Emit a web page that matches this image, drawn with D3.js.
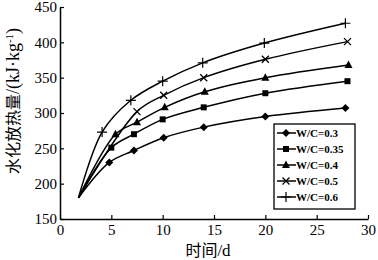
<!DOCTYPE html>
<html>
<head>
<meta charset="utf-8">
<script src="https://cdn.jsdelivr.net/npm/d3@7"></script>
<style>
  body { margin: 0; background: white; }
</style>
</head>
<body>
<div id="container"></div>
<script>
// data (days, heat in kJ/kg)
let startPoint = [1.8, 180];
let days03 = [4.8, 7.2, 10.1, 14, 20, 27.8];
let heat03 = [230, 247, 265, 280, 295, 307];
let days035 = [5, 7.2, 10, 14, 20, 28];
let heat035 = [251, 270, 291, 308, 328, 345];
let days04 = [5.4, 7.5, 10.2, 14.1, 20, 28.1];
let heat04 = [270, 287, 308, 330, 350, 368];
let days05 = [7.5, 10.1, 14, 20, 28];
let heat05 = [302, 325, 350, 376, 401];
let days06 = [4.1, 6.9, 10, 13.9, 19.9, 27.8];
let heat06 = [273, 318, 345, 371, 399, 427];
let seriesNames = ["W/C=0.3", "W/C=0.35", "W/C=0.4", "W/C=0.5", "W/C=0.6"];
let seriesSymbols = ["diamond", "square", "triangle", "cross", "plus"];
let xTicks = [0, 5, 10, 15, 20, 25, 30];
let yTicks = [150, 200, 250, 300, 350, 400, 450];

let w = 378;
let h = 260;

let viz = d3.select("#container")
  .append("svg")
    .attr("width", w)
    .attr("height", h)
    .style("background-color", "white")
;

let xScale = d3.scaleLinear().domain([0, 30]).range([60, 368]);
let yScale = d3.scaleLinear().domain([150, 450]).range([219, 7]);

let serif = "'Liberation Serif', 'Times New Roman', serif";

// axes
let xAxis = d3.axisBottom(xScale).tickValues(xTicks).tickSizeInner(-4).tickSizeOuter(0).tickPadding(5);
let xAxisGroup = viz.append("g").attr("transform", "translate(0," + yScale(150) + ")").call(xAxis);
let yAxis = d3.axisLeft(yScale).tickValues(yTicks).tickSizeInner(-4).tickSizeOuter(0).tickPadding(3);
let yAxisGroup = viz.append("g").attr("transform", "translate(" + xScale(0) + ",0)").call(yAxis);

[xAxisGroup, yAxisGroup].forEach(function(g){
  g.select(".domain").attr("stroke", "black").attr("stroke-width", 1.5);
  g.selectAll(".tick line").attr("stroke", "black").attr("stroke-width", 1.2);
  g.selectAll(".tick text")
    .attr("font-family", serif)
    .attr("font-size", 15)
    .attr("fill", "black");
});

// axis titles
viz.append("text")
  .attr("x", 208)
  .attr("y", 256)
  .attr("text-anchor", "middle")
  .attr("font-size", 16)
  .attr("fill", "black")
  .html("<tspan font-family=\"'Noto Sans CJK SC'\">时间</tspan><tspan font-family=\"" + serif + "\" font-size=\"17\">/d</tspan>");

viz.append("text")
  .attr("transform", "translate(19,101) rotate(-90)")
  .attr("text-anchor", "middle")
  .attr("font-size", 16)
  .attr("fill", "black")
  .html("<tspan font-family=\"'Noto Sans CJK SC'\">水化放热量</tspan>" +
        "<tspan font-family=\"" + serif + "\" font-size=\"18\">/(kJ·kg</tspan>" +
        "<tspan font-family=\"" + serif + "\" font-size=\"11\" dy=\"-6\">-1</tspan>" +
        "<tspan font-family=\"" + serif + "\" font-size=\"18\" dy=\"6\">)</tspan>");

// series
let allDays = [days03, days035, days04, days05, days06];
let allHeat = [heat03, heat035, heat04, heat05, heat06];

let line = d3.line()
  .x(function(d){ return xScale(d[0]); })
  .y(function(d){ return yScale(d[1]); })
  .curve(d3.curveCatmullRom.alpha(0.5));

function drawMarker(g, symbol, x, y){
  if (symbol == "diamond") {
    g.append("path").attr("d", "M" + x + "," + (y-4) + "L" + (x+4) + "," + y + "L" + x + "," + (y+4) + "L" + (x-4) + "," + y + "Z").attr("fill", "black");
  } else if (symbol == "square") {
    g.append("rect").attr("x", x-3).attr("y", y-3).attr("width", 6).attr("height", 6).attr("fill", "black");
  } else if (symbol == "triangle") {
    g.append("path").attr("d", "M" + x + "," + (y-4.5) + "L" + (x+4) + "," + (y+3) + "L" + (x-4) + "," + (y+3) + "Z").attr("fill", "black");
  } else if (symbol == "cross") {
    g.append("path").attr("d", "M" + (x-3.5) + "," + (y-3.5) + "L" + (x+3.5) + "," + (y+3.5) + "M" + (x-3.5) + "," + (y+3.5) + "L" + (x+3.5) + "," + (y-3.5)).attr("stroke", "black").attr("stroke-width", 1.3);
  } else {
    g.append("path").attr("d", "M" + (x-5) + "," + y + "L" + (x+5) + "," + y + "M" + x + "," + (y-5) + "L" + x + "," + (y+5)).attr("stroke", "black").attr("stroke-width", 1.2);
  }
}

let seriesGroup = viz.append("g");
allDays.forEach(function(days, i){
  let pts = [startPoint].concat(days.map(function(d, j){ return [d, allHeat[i][j]]; }));
  seriesGroup.append("path")
    .attr("d", line(pts))
    .attr("fill", "none")
    .attr("stroke", "black")
    .attr("stroke-width", 1.5);
  days.forEach(function(d, j){
    drawMarker(seriesGroup, seriesSymbols[i], xScale(d), yScale(allHeat[i][j]));
  });
});

// legend
let legend = viz.append("g");
legend.append("rect")
  .attr("x", 274).attr("y", 124).attr("width", 81).attr("height", 85)
  .attr("fill", "white").attr("stroke", "black").attr("stroke-width", 1.3);
seriesNames.forEach(function(name, i){
  let y = 133 + i * 16;
  legend.append("line").attr("x1", 277).attr("x2", 296).attr("y1", y).attr("y2", y)
    .attr("stroke", "black").attr("stroke-width", 1.5);
  drawMarker(legend, seriesSymbols[i], 286, y);
  legend.append("text")
    .text(name)
    .attr("x", 296)
    .attr("y", y + 4)
    .attr("font-family", serif)
    .attr("font-weight", "bold")
    .attr("font-size", 11)
    .attr("fill", "black");
});
</script>
</body>
</html>
